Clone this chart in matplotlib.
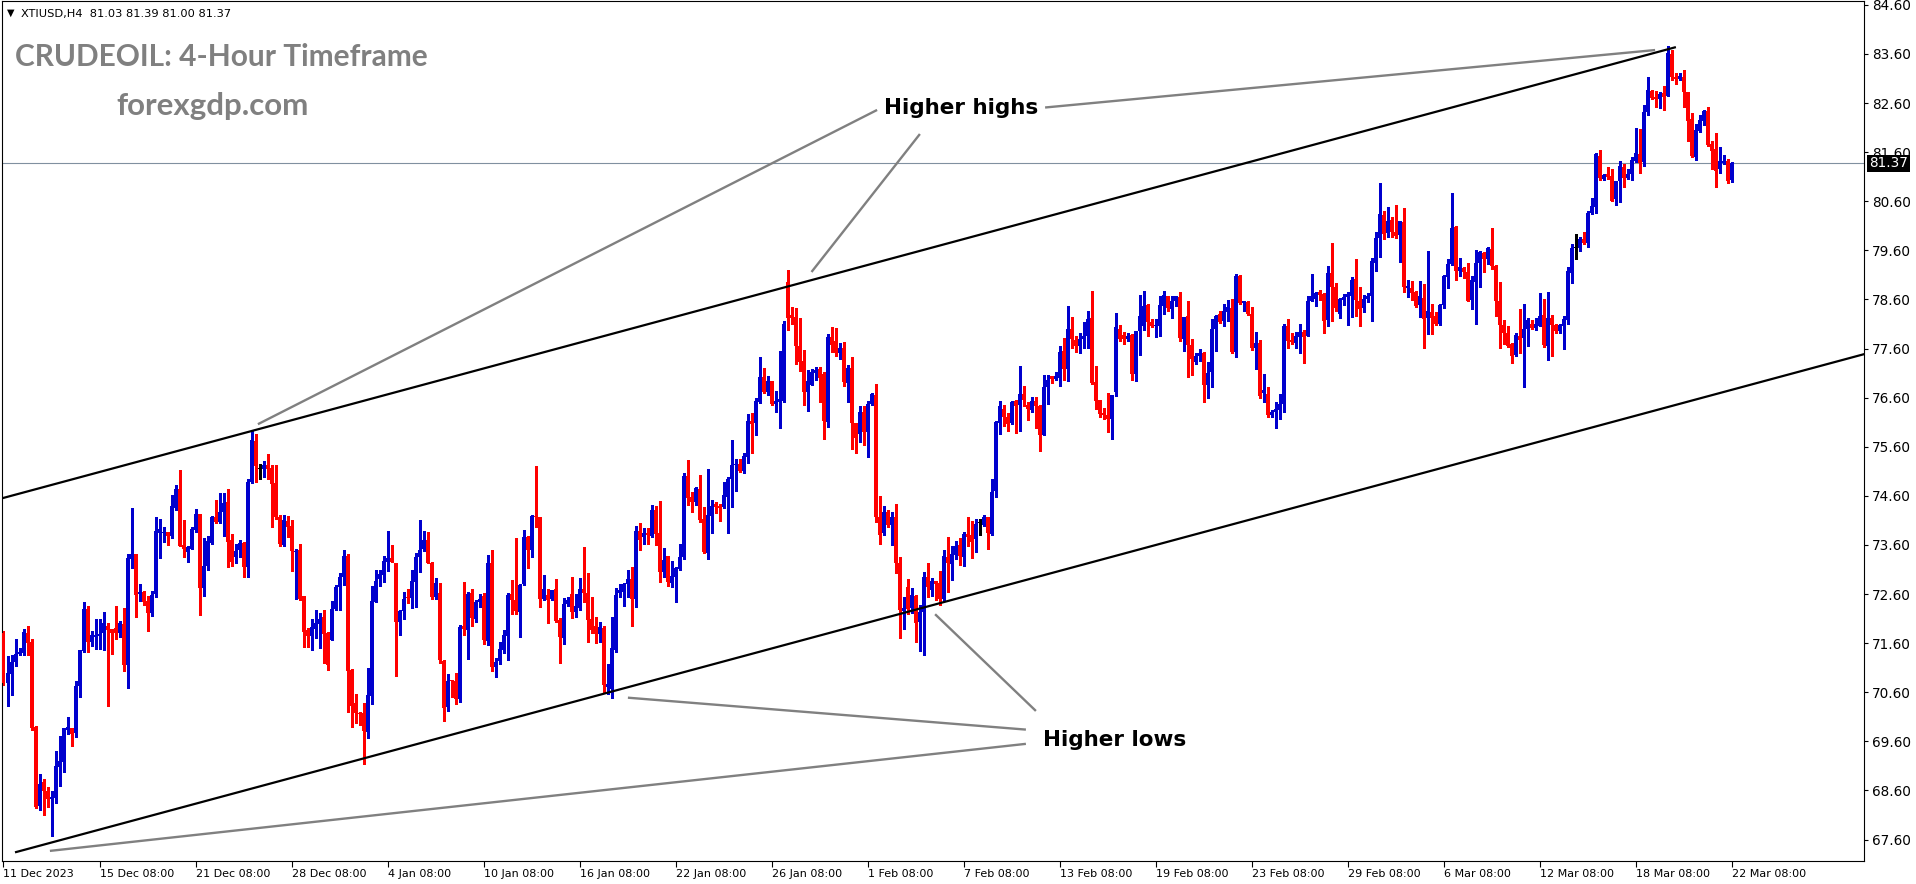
import matplotlib
matplotlib.use("Agg")
import matplotlib.pyplot as plt
import matplotlib.transforms as mtransforms
import numpy as np

# ---------------- data (XTIUSD H4) ----------------
opens = [
    71.80, 70.78, 70.97, 71.22, 71.39, 71.41, 71.81, 71.62, 69.89, 68.29, 68.77, 68.58, 68.42, 68.45, 69.07, 69.19, 69.83, 69.87, 69.78, 70.72, 71.45, 72.30, 71.63, 71.73, 71.75, 71.80, 71.96, 71.88, 71.90, 71.81, 71.99, 71.16, 73.32, 73.42, 72.60, 72.64, 72.46, 72.22, 72.60, 73.85, 73.84, 73.87, 73.78, 74.36, 74.74, 73.60, 73.46, 73.52, 73.90, 74.23, 72.73, 73.17, 73.65, 74.17, 74.06,
    74.27, 74.48, 73.70, 73.36, 73.49, 73.65, 73.16, 74.89, 75.72, 75.14, 75.14, 75.23, 75.16, 74.86, 74.16, 73.59, 74.09, 73.99, 73.45, 73.50, 72.56, 71.87, 71.75, 71.89, 71.99, 72.13, 71.80, 71.66, 72.29, 72.75, 72.95, 73.38, 71.05, 70.38, 70.18, 70.17, 69.80, 70.53, 72.43, 72.91, 72.98, 73.26, 73.34, 73.24, 72.03, 72.26, 72.55, 72.52, 72.85, 73.35, 73.51, 73.70, 73.24, 72.55, 72.62,
    71.24, 70.31, 70.85, 70.83, 70.46, 71.94, 71.87, 72.63, 72.09, 72.43, 72.56, 71.65, 73.24, 71.12, 71.24, 71.46, 71.75, 72.60, 72.48, 72.24, 72.80, 73.77, 73.50, 74.19, 74.18, 72.50, 72.58, 72.50, 72.70, 72.07, 71.71, 72.40, 72.60, 72.24, 72.32, 72.70, 72.63, 72.09, 71.95, 71.79, 71.90, 70.71, 70.66, 71.46, 72.62, 72.65, 72.80, 72.90, 72.51, 73.89, 73.77, 73.84, 73.79, 74.31, 73.84,
    73.04, 73.38, 72.83, 72.95, 73.11, 73.36, 75.01, 74.58, 74.47, 74.75, 74.13, 73.44, 74.19, 74.43, 74.40, 74.37, 74.58, 74.95, 75.22, 75.25, 75.11, 75.39, 76.13, 76.08, 76.52, 77.03, 76.72, 76.93, 76.47, 76.51, 76.54, 78.96, 78.28, 78.24, 77.65, 77.35, 76.72, 76.86, 77.10, 77.18, 77.08, 76.11, 77.84, 77.76, 77.52, 77.62, 76.89, 77.21, 76.08, 75.87, 76.30, 75.90, 76.47, 76.65, 74.18,
    73.84, 74.28, 74.00, 74.16, 73.24, 72.26, 72.75, 72.31, 72.56, 72.04, 72.24, 72.94, 72.68, 72.87, 72.82, 72.49, 73.36, 73.21, 73.40, 73.59, 73.36, 73.82, 73.80, 73.72, 74.04, 74.01, 74.16, 73.82, 74.69, 76.09, 76.37, 76.21, 76.08, 76.53, 76.45, 76.67, 76.46, 76.35, 76.53, 76.44, 75.85, 76.82, 77.04, 76.98, 77.01, 77.55, 77.19, 78.00, 77.77, 77.66, 77.79, 77.86, 78.22, 76.91, 76.55,
    76.28, 76.25, 76.17, 76.72, 78.00, 77.88, 77.79, 77.88, 77.08, 77.96, 78.07, 78.49, 78.15, 78.05, 78.06, 78.47, 78.67, 78.40, 78.57, 78.66, 77.80, 78.26, 77.67, 77.33, 77.44, 77.52, 76.86, 77.12, 78.00, 78.31, 78.17, 78.35, 78.42, 77.54, 79.08, 78.52, 78.54, 78.31, 77.62, 77.71, 76.69, 76.68, 76.25, 76.30, 76.34, 76.47, 78.06, 77.77, 77.72, 77.84, 77.94, 77.86, 78.57, 78.61, 78.76,
    78.72, 78.18, 79.13, 78.86, 78.30, 78.58, 78.66, 78.68, 79.02, 78.57, 78.42, 78.60, 78.68, 79.35, 79.86, 80.32, 79.95, 80.22, 79.97, 79.91, 80.17, 78.84, 78.84, 78.75, 78.49, 78.64, 78.23, 78.34, 78.26, 78.10, 78.49, 79.06, 79.32, 80.08, 79.17, 79.25, 79.15, 78.58, 78.96, 79.35, 79.54, 79.42, 79.63, 79.28, 78.57, 78.08, 77.91, 77.69, 77.47, 77.86, 77.81, 77.99, 78.11, 78.02, 78.07,
    78.28, 77.66, 78.23, 78.08, 77.95, 78.07, 78.18, 79.13, 79.64, 79.64, 79.83, 79.76, 80.36, 80.49, 81.52, 81.05, 81.16, 81.12, 80.65, 81.01, 81.29, 81.08, 81.15, 81.42, 81.56, 81.39, 82.41, 82.85, 82.73, 82.68, 82.81, 82.75, 83.60, 83.14, 83.10, 83.14, 82.83, 82.27, 81.51, 82.03, 82.24, 82.43, 81.77, 81.67, 81.25, 81.37, 81.42, 81.03,
]
highs = [
    71.85, 71.34, 71.36, 71.69, 71.50, 71.89, 71.95, 71.69, 69.91, 68.94, 68.83, 68.68, 68.58, 69.40, 69.70, 69.87, 70.10, 69.87, 70.82, 71.46, 72.43, 72.36, 71.85, 72.09, 72.10, 72.23, 72.02, 71.88, 72.36, 72.05, 72.31, 73.42, 74.35, 73.42, 72.81, 72.66, 72.56, 72.66, 74.16, 74.13, 73.97, 73.87, 74.62, 74.82, 75.13, 74.11, 73.57, 73.97, 74.34, 74.24, 73.74, 73.79, 74.19, 74.52, 74.65,
    74.65, 74.75, 73.82, 73.62, 73.70, 73.67, 74.94, 75.94, 75.87, 75.25, 75.31, 75.45, 75.22, 75.22, 74.21, 74.21, 74.19, 74.11, 73.52, 73.63, 72.56, 71.90, 72.09, 72.28, 72.21, 72.28, 71.82, 72.45, 72.79, 73.02, 73.50, 73.42, 71.07, 70.56, 70.20, 70.39, 71.10, 72.77, 73.09, 73.10, 73.38, 73.89, 73.59, 73.24, 72.28, 72.64, 72.70, 73.09, 73.43, 74.11, 73.89, 73.86, 73.25, 72.92, 72.83,
    71.26, 70.97, 70.85, 70.99, 71.97, 72.84, 72.65, 72.70, 72.47, 72.60, 72.62, 73.40, 73.50, 71.29, 71.63, 71.86, 72.62, 72.89, 73.75, 72.81, 73.91, 73.79, 74.21, 75.21, 74.18, 72.99, 72.70, 72.68, 72.90, 72.11, 72.53, 72.55, 72.94, 72.60, 72.92, 73.55, 73.02, 72.55, 72.14, 72.04, 71.94, 71.18, 72.14, 72.72, 72.81, 72.82, 73.09, 73.16, 73.99, 74.04, 73.94, 73.94, 74.41, 74.40, 74.50,
    73.53, 73.38, 73.28, 73.16, 73.63, 75.06, 75.33, 74.67, 74.79, 75.03, 74.38, 75.15, 74.52, 74.48, 74.44, 74.89, 74.99, 75.74, 75.36, 75.36, 75.47, 76.27, 76.28, 76.59, 77.42, 77.21, 77.04, 76.93, 76.74, 77.55, 78.16, 79.20, 78.45, 78.42, 78.22, 77.57, 77.16, 77.18, 77.23, 77.23, 77.13, 77.89, 78.03, 78.01, 77.72, 77.73, 77.27, 77.42, 76.08, 76.44, 76.44, 76.54, 76.70, 76.88, 74.60,
    74.39, 74.31, 74.28, 74.43, 73.36, 72.55, 72.91, 72.72, 72.59, 72.38, 73.06, 73.24, 72.92, 72.87, 73.07, 73.50, 73.76, 73.57, 73.69, 73.74, 73.87, 74.16, 74.09, 74.13, 74.12, 74.22, 74.18, 74.94, 76.13, 76.53, 76.45, 76.28, 76.53, 76.55, 77.25, 76.84, 76.52, 76.62, 76.62, 76.45, 77.06, 77.06, 77.04, 77.13, 77.65, 77.81, 78.47, 78.24, 77.86, 77.91, 78.15, 78.37, 78.77, 77.25, 76.55,
    76.40, 76.70, 76.65, 78.33, 78.08, 77.93, 77.91, 77.89, 77.96, 78.69, 78.77, 78.51, 78.20, 78.20, 78.67, 78.77, 78.67, 78.67, 78.67, 78.76, 78.25, 78.57, 77.80, 77.50, 77.59, 77.54, 77.33, 78.20, 78.28, 78.37, 78.50, 78.59, 78.61, 79.12, 79.10, 78.57, 78.56, 78.44, 77.94, 77.78, 77.08, 76.81, 76.35, 76.52, 76.68, 78.10, 78.20, 77.91, 77.93, 78.10, 77.98, 78.67, 79.12, 78.76, 78.79,
    78.74, 79.28, 79.76, 78.93, 78.64, 78.71, 78.76, 79.05, 79.42, 78.86, 78.69, 78.74, 79.44, 79.98, 80.97, 80.40, 80.48, 80.29, 80.52, 80.20, 80.47, 79.00, 78.98, 78.78, 78.98, 78.92, 79.59, 78.51, 78.34, 78.50, 79.10, 79.42, 80.77, 80.10, 79.45, 79.27, 79.35, 79.08, 79.61, 79.59, 79.56, 79.66, 80.06, 79.30, 78.96, 78.18, 78.05, 77.71, 77.92, 78.41, 78.50, 78.23, 78.18, 78.23, 78.74,
    78.60, 78.76, 78.29, 78.10, 78.11, 78.26, 79.27, 79.74, 79.93, 79.87, 79.97, 80.40, 80.66, 81.58, 81.65, 81.16, 81.29, 81.26, 81.01, 81.42, 81.35, 81.26, 81.51, 82.10, 82.07, 82.56, 83.14, 82.87, 82.85, 82.83, 82.95, 83.76, 83.68, 83.22, 83.22, 83.27, 82.83, 82.39, 82.17, 82.36, 82.46, 82.51, 81.83, 81.99, 81.71, 81.54, 81.46, 81.39,
]
lows = [
    70.75, 70.33, 70.55, 71.14, 71.36, 71.36, 71.35, 69.83, 68.24, 68.20, 68.10, 68.27, 67.68, 68.34, 68.70, 68.98, 69.76, 69.51, 69.68, 70.50, 71.43, 71.43, 71.54, 71.48, 71.48, 71.47, 70.33, 71.38, 71.68, 71.73, 71.04, 70.69, 73.14, 72.14, 72.45, 72.38, 71.85, 72.16, 72.55, 73.34, 73.67, 73.59, 73.75, 74.31, 73.57, 73.36, 73.26, 73.52, 73.87, 72.17, 72.56, 73.09, 73.63, 74.04, 74.04,
    73.79, 73.15, 73.18, 73.24, 73.35, 72.95, 72.94, 74.86, 74.88, 74.95, 74.99, 74.94, 73.97, 74.12, 73.57, 73.57, 73.76, 73.08, 72.50, 72.47, 71.53, 71.53, 71.46, 71.70, 71.51, 71.19, 71.06, 71.66, 72.28, 72.28, 72.79, 70.19, 69.90, 69.97, 69.93, 69.14, 69.66, 70.36, 72.43, 72.77, 72.85, 73.07, 73.26, 70.94, 71.77, 72.09, 72.41, 72.31, 72.33, 73.06, 73.47, 73.23, 72.51, 72.51, 71.20,
    70.02, 70.21, 70.50, 70.36, 70.41, 71.77, 71.28, 71.95, 72.04, 72.34, 71.58, 71.56, 71.04, 70.92, 71.18, 71.41, 71.25, 72.20, 72.19, 71.73, 72.78, 73.14, 73.36, 73.97, 72.34, 72.48, 72.02, 72.48, 72.04, 71.20, 71.58, 72.36, 72.12, 72.14, 72.28, 72.43, 71.63, 71.80, 71.61, 71.63, 70.58, 70.56, 70.48, 71.43, 72.55, 72.36, 72.55, 71.96, 72.34, 73.50, 73.62, 73.63, 73.77, 73.59, 72.85,
    72.94, 72.76, 72.74, 72.43, 73.09, 73.31, 74.41, 74.28, 74.41, 74.07, 73.43, 73.31, 73.84, 74.25, 74.08, 74.35, 73.85, 74.38, 74.69, 75.08, 75.06, 75.26, 75.47, 75.84, 76.49, 76.70, 76.66, 76.45, 76.30, 75.98, 76.52, 77.97, 78.11, 77.29, 77.15, 76.45, 76.33, 76.85, 76.96, 76.52, 75.76, 76.01, 77.54, 77.44, 77.39, 76.84, 76.52, 75.55, 75.47, 75.69, 75.64, 75.39, 76.45, 74.06, 73.63,
    73.80, 73.97, 73.59, 73.02, 71.71, 71.89, 72.19, 72.21, 71.63, 71.44, 71.35, 72.55, 72.57, 72.48, 72.38, 72.45, 72.65, 72.89, 73.31, 73.19, 73.17, 73.58, 73.33, 73.46, 73.80, 73.99, 73.51, 73.80, 74.58, 75.87, 76.02, 75.92, 76.06, 75.89, 75.93, 76.43, 76.15, 76.31, 75.99, 75.51, 75.83, 76.47, 76.89, 76.96, 76.84, 76.96, 76.94, 77.62, 77.54, 77.52, 77.62, 77.62, 76.87, 76.37, 76.21,
    76.17, 75.91, 75.76, 76.64, 77.76, 77.69, 77.76, 76.96, 76.93, 77.47, 77.98, 77.86, 78.03, 77.84, 77.86, 78.31, 78.37, 78.23, 78.47, 77.76, 77.56, 77.03, 77.06, 77.28, 77.35, 76.52, 76.60, 76.82, 77.56, 78.13, 78.07, 78.17, 77.52, 77.42, 78.51, 78.37, 78.28, 77.57, 77.18, 76.59, 76.52, 76.21, 76.21, 75.99, 76.17, 76.30, 77.62, 77.69, 77.62, 77.52, 77.31, 77.86, 78.56, 78.47, 78.59,
    77.92, 78.07, 78.17, 78.37, 78.23, 78.49, 78.08, 78.25, 78.27, 78.07, 78.35, 78.54, 78.17, 79.19, 79.47, 79.83, 79.88, 79.88, 79.86, 79.37, 78.76, 78.66, 78.58, 78.45, 78.25, 77.62, 77.89, 77.90, 78.08, 78.08, 78.43, 78.83, 79.30, 79.00, 79.08, 79.03, 78.56, 78.40, 78.10, 78.85, 79.15, 79.32, 79.23, 78.27, 77.62, 77.69, 77.64, 77.30, 77.45, 77.52, 76.82, 77.66, 78.00, 77.98, 78.05,
    77.63, 77.37, 77.44, 77.91, 77.91, 77.59, 78.11, 78.94, 79.43, 79.59, 79.73, 79.66, 80.34, 80.37, 81.03, 81.03, 81.05, 80.61, 80.53, 80.59, 80.90, 81.05, 81.03, 81.39, 81.17, 81.31, 82.36, 82.68, 82.51, 82.49, 82.45, 82.74, 83.08, 82.98, 83.07, 82.51, 81.82, 81.50, 81.44, 82.02, 82.15, 81.73, 81.26, 80.90, 81.18, 81.36, 80.98, 81.00,
]
closes = [
    70.78, 70.99, 71.21, 71.39, 71.41, 71.82, 71.61, 69.87, 68.26, 68.73, 68.58, 68.43, 68.47, 69.10, 69.20, 69.87, 69.89, 69.76, 70.72, 71.46, 72.30, 71.63, 71.77, 71.77, 71.79, 72.02, 71.87, 71.80, 71.80, 72.02, 71.16, 73.33, 73.42, 72.58, 72.64, 72.43, 72.22, 72.58, 73.89, 73.93, 73.87, 73.79, 74.39, 74.74, 73.57, 73.52, 73.55, 73.93, 74.23, 72.73, 73.17, 73.68, 74.18, 74.07, 74.27,
    74.46, 73.67, 73.26, 73.48, 73.65, 73.16, 74.89, 75.74, 75.20, 75.14, 75.23, 75.14, 74.84, 74.16, 73.62, 74.11, 73.97, 73.47, 73.48, 72.51, 71.83, 71.75, 71.92, 72.02, 72.09, 71.79, 71.16, 72.30, 72.75, 72.95, 73.38, 71.03, 70.32, 70.17, 70.16, 69.82, 70.54, 72.45, 72.87, 73.01, 73.27, 73.34, 73.26, 72.04, 72.26, 72.51, 72.52, 72.87, 73.36, 73.50, 73.70, 73.24, 72.55, 72.83, 71.26,
    70.29, 70.83, 70.82, 70.46, 71.92, 71.89, 72.60, 72.12, 72.43, 72.51, 71.67, 73.24, 71.12, 71.21, 71.48, 71.77, 72.58, 72.48, 72.26, 72.78, 73.76, 73.50, 74.19, 74.16, 72.50, 72.70, 72.48, 72.68, 72.05, 71.73, 72.40, 72.47, 72.24, 72.36, 72.70, 72.63, 72.07, 71.86, 71.79, 71.92, 70.74, 70.77, 71.50, 72.58, 72.68, 72.81, 72.90, 72.50, 73.89, 73.70, 73.84, 73.80, 74.31, 73.82, 73.06,
    73.29, 72.85, 72.96, 73.14, 73.35, 75.01, 74.55, 74.48, 74.77, 74.11, 73.46, 74.21, 74.40, 74.38, 74.35, 74.62, 74.95, 75.23, 75.25, 75.11, 75.41, 76.13, 76.06, 76.53, 77.03, 76.72, 76.93, 76.47, 76.53, 76.57, 78.11, 78.23, 78.23, 77.65, 77.33, 76.72, 76.93, 77.13, 77.16, 77.01, 76.13, 77.84, 77.67, 77.52, 77.62, 76.91, 77.21, 76.08, 75.77, 76.30, 75.90, 76.47, 76.67, 74.18, 73.80,
    74.28, 74.00, 74.16, 73.24, 72.28, 72.32, 72.30, 72.58, 72.02, 72.24, 72.94, 72.75, 72.87, 72.80, 72.49, 73.38, 73.23, 73.42, 73.57, 73.38, 73.82, 73.77, 73.67, 74.03, 74.04, 74.16, 73.84, 74.67, 76.10, 76.43, 76.21, 76.06, 76.51, 76.44, 76.67, 76.55, 76.37, 76.53, 76.43, 75.85, 76.82, 76.96, 76.98, 77.04, 77.54, 77.19, 78.00, 77.79, 77.66, 77.79, 77.86, 78.20, 76.89, 76.54, 76.27,
    76.25, 76.17, 76.65, 78.03, 77.80, 77.79, 77.86, 77.08, 77.96, 78.26, 78.47, 78.15, 78.05, 78.08, 78.49, 78.69, 78.43, 78.57, 78.67, 77.82, 78.25, 77.67, 77.39, 77.45, 77.52, 76.86, 77.11, 78.00, 78.26, 78.15, 78.37, 78.44, 77.54, 79.07, 78.52, 78.57, 78.30, 77.62, 77.72, 76.64, 76.76, 76.25, 76.30, 76.37, 76.47, 78.06, 77.76, 77.73, 77.86, 77.94, 77.84, 78.57, 78.67, 78.74, 78.69,
    78.17, 79.13, 78.86, 78.43, 78.61, 78.66, 78.71, 79.00, 78.58, 78.40, 78.61, 78.68, 79.38, 79.85, 80.34, 79.93, 80.20, 79.97, 79.90, 80.20, 78.86, 78.88, 78.74, 78.47, 78.67, 78.20, 78.37, 78.23, 78.10, 78.49, 79.08, 79.33, 80.06, 79.19, 79.27, 79.15, 78.57, 79.00, 79.35, 79.57, 79.42, 79.64, 79.29, 78.56, 78.09, 77.91, 77.66, 77.45, 77.88, 77.77, 77.99, 78.18, 78.02, 78.10, 78.27,
    77.67, 78.23, 78.09, 77.95, 78.08, 78.20, 79.17, 79.64, 79.64, 79.83, 79.76, 80.37, 80.50, 81.56, 81.08, 81.14, 81.10, 80.61, 81.01, 81.31, 81.08, 81.16, 81.44, 81.58, 81.37, 82.41, 82.87, 82.71, 82.68, 82.78, 82.73, 83.63, 83.14, 83.10, 83.15, 82.83, 82.24, 81.52, 82.05, 82.26, 82.43, 81.75, 81.63, 81.22, 81.42, 81.42, 81.01, 81.37,
]

date_labels = ["11 Dec 2023", "15 Dec 08:00", "21 Dec 08:00", "28 Dec 08:00", "4 Jan 08:00",
               "10 Jan 08:00", "16 Jan 08:00", "22 Jan 08:00", "26 Jan 08:00", "1 Feb 08:00",
               "7 Feb 08:00", "13 Feb 08:00", "19 Feb 08:00", "23 Feb 08:00", "29 Feb 08:00",
               "6 Mar 08:00", "12 Mar 08:00", "18 Mar 08:00", "22 Mar 08:00"]
date_label_bars = [0, 24, 48, 72, 96, 120, 144, 168, 192, 216, 240, 264, 288, 312, 336, 360, 384, 408, 432]
price_ticks = [84.60, 83.60, 82.60, 81.60, 80.60, 79.60, 78.60, 77.60, 76.60, 75.60,
               74.60, 73.60, 72.60, 71.60, 70.60, 69.60, 68.60, 67.60]
last_price = 81.37
header_text = "XTIUSD,H4  81.03 81.39 81.00 81.37"

# trend lines (bar index, price)
upper_channel = [(-0.875, 74.54), (418.1, 83.74)]
lower_channel = [(2.875, 67.34), (465.3, 77.49)]
highs_pointers = [[(218.4, 82.46), (63.6, 76.06)],
                  [(229.1, 81.97), (202.0, 79.16)],
                  [(260.4, 82.51), (412.9, 83.68)]]
lows_pointers = [[(232.9, 72.19), (258.1, 70.22)],
                 [(156.1, 70.49), (255.6, 69.84)],
                 [(11.6, 67.37), (255.6, 69.55)]]
highs_label = ("Higher highs", 239.4, 82.49)
lows_label = ("Higher lows", 277.75, 69.62)

n = len(closes)
assert len(opens) == n and len(highs) == n and len(lows) == n, (len(opens), len(highs), len(lows), n)

# ---------------- figure ----------------
W, H = 1916, 884
L, R, T, B = 2, 1864, 1, 861
fig = plt.figure(figsize=(W / 100, H / 100), dpi=100)
ax = fig.add_axes([L / W, (H - B) / H, (R - L) / W, (B - T) / H])
X0, DX = 3.5, 4.0
ax.set_xlim((L - X0) / DX, (R - X0) / DX)
ax.set_ylim(67.164, 84.679)

o = np.array(opens); h = np.array(highs); l = np.array(lows); c = np.array(closes)
idx = np.arange(n)
cols = np.where(c > o, '#0000CD', np.where(c < o, '#FF0000', '#000000'))

ax.axhline(last_price, color='#8090A0', lw=0.8, zorder=1)
ax.vlines(idx, l, h, colors=cols, linewidth=0.75, antialiased=False, zorder=2)
ax.bar(idx, np.maximum(np.abs(c - o), 0.021), bottom=np.minimum(o, c), width=0.7,
       color=cols, linewidth=0, antialiased=False, zorder=3)

for line in (upper_channel, lower_channel):
    ax.plot([line[0][0], line[1][0]], [line[0][1], line[1][1]], color='black', lw=1.6,
            solid_capstyle='butt', zorder=4)
for seg in highs_pointers + lows_pointers:
    ax.plot([seg[0][0], seg[1][0]], [seg[0][1], seg[1][1]], color='#808080', lw=1.7,
            solid_capstyle='butt', zorder=4)

for txt, xb, yp in (highs_label, lows_label):
    ax.text(xb, yp, txt, ha='center', va='center', fontsize=15.5, fontweight='bold',
            color='black', family='DejaVu Sans', zorder=5)

# axes styling
for s in ax.spines.values():
    s.set_linewidth(0.8)
    s.set_color('black')
ax.yaxis.tick_right()
ax.set_yticks(price_ticks)
ax.set_yticklabels([f"{v:.2f}" for v in price_ticks])
ax.tick_params(axis='y', direction='out', length=3, width=0.8, pad=3, labelsize=9.8,
               labelcolor='#000000')
ax.set_xticks(date_label_bars)
ax.set_xticklabels(date_labels)
ax.tick_params(axis='x', direction='out', length=4, width=0.8, pad=2, labelsize=8)
for lab in ax.get_xticklabels():
    lab.set_ha('left')

# last price box
trans = mtransforms.blended_transform_factory(ax.transAxes, ax.transData)
ax.text(1.0 + 5 / (R - L), last_price, f"{last_price:.2f}", transform=trans, ha='left',
        va='center', fontsize=9.8, color='white', clip_on=False, zorder=10,
        bbox=dict(facecolor='black', edgecolor='none', pad=1.2))

# titles
fig.text(7 / W, 1 - 13 / H, "\u25BC", fontsize=7, va='center', ha='left', color='black')
fig.text(21 / W, 1 - 17 / H, header_text, fontsize=8.2, va='baseline', ha='left', color='black')
fig.text(15 / W, 1 - 66 / H, "CRUDEOIL: 4-Hour Timeframe", fontsize=21.5, fontweight='bold',
         family='Lato', color='#808080', va='baseline', ha='left')
fig.text(116 / W, 1 - 115 / H, "forexgdp.com", fontsize=22.5, fontweight='bold',
         family='Lato', color='#808080', va='baseline', ha='left')

fig.savefig("out.png", dpi=100, facecolor='white')
